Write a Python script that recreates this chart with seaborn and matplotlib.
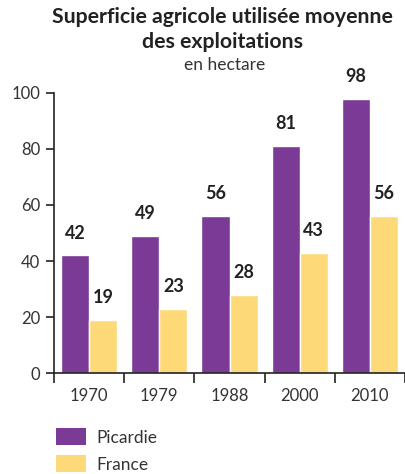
import matplotlib
matplotlib.use('Agg')
import matplotlib.pyplot as plt
from matplotlib.patches import Patch
import seaborn as sns
import pandas as pd

years = ['1970', '1979', '1988', '2000', '2010']
picardie = [42, 49, 56, 81, 98]
france = [19, 23, 28, 43, 56]
regions = ['Picardie', 'France']
colors = ['#7b3a96', '#fdd978']

df = pd.DataFrame({
    'annee': years * 2,
    'region': ['Picardie'] * len(years) + ['France'] * len(years),
    'sau': picardie + france,
})

sns.set_style('white')
plt.rcParams['font.family'] = ['Lato', 'DejaVu Sans']

fig = plt.figure(figsize=(4.05, 4.74), dpi=100)
ax = fig.add_axes([54 / 405, 101 / 474, 351 / 405, 280 / 474])

sns.barplot(data=df, x='annee', y='sau', hue='region', hue_order=regions,
            palette=colors, width=0.8, saturation=1, ax=ax, legend=False)

for cont in ax.containers:
    ax.bar_label(cont, fmt='%d', padding=10, fontsize=13, fontweight='bold',
                 color='#222222', clip_on=False)

ax.set_xlim(-0.5, len(years) - 0.5)
ax.set_ylim(0, 100)
ax.set_yticks([0, 20, 40, 60, 80, 100])
ax.set_xlabel('')
ax.set_ylabel('')
for s in ['top', 'right']:
    ax.spines[s].set_visible(False)
for s in ['left', 'bottom']:
    ax.spines[s].set_color('#222222')
    ax.spines[s].set_linewidth(1.2)

ax.tick_params(axis='y', length=6, width=1.2, color='#222222', labelsize=12,
               labelcolor='#333333', pad=4, left=True)
ax.tick_params(axis='x', which='major', length=0, labelsize=12,
               labelcolor='#333333', pad=11)
ax.set_xticks([i - 0.5 for i in range(len(years) + 1)], minor=True)
ax.tick_params(axis='x', which='minor', length=7, width=1.2, color='#222222',
               bottom=True)

fig.text(222 / 405, 1 - 17 / 474, 'Superficie agricole utilisée moyenne',
         ha='center', va='center', fontsize=15.3, fontweight='bold', color='#222222')
fig.text(222 / 405, 1 - 42 / 474, 'des exploitations',
         ha='center', va='center', fontsize=15.3, fontweight='bold', color='#222222')
fig.text(225 / 405, 1 - 65 / 474, 'en hectare', ha='center', va='center',
         fontsize=12.5, color='#333333')

handles = [Patch(facecolor=c, edgecolor='none') for c in colors]
fig.legend(handles, regions, loc='lower left', bbox_to_anchor=(0.1, -0.03),
           frameon=False, fontsize=12.5, handlelength=1.7, handleheight=1.15,
           handletextpad=0.6, labelspacing=0.55, labelcolor='#333333')

fig.savefig('out.png', dpi=100)
